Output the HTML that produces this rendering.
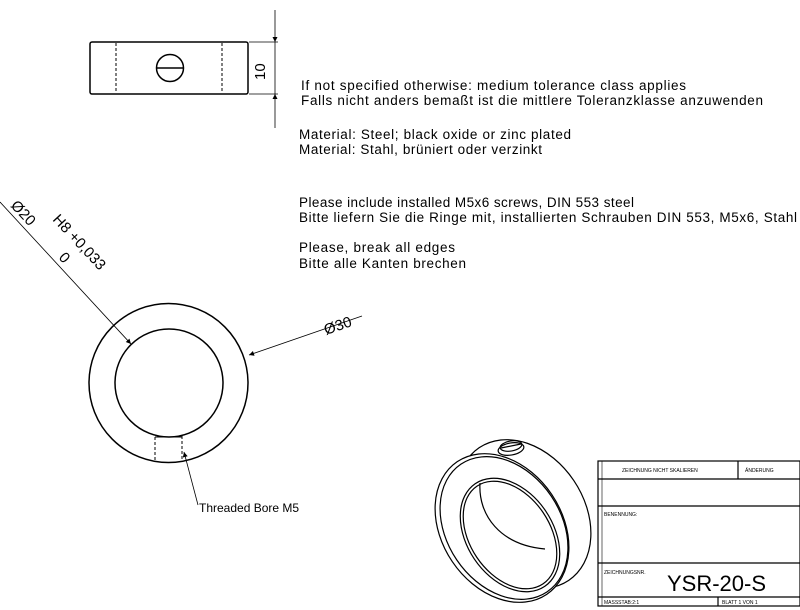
<!DOCTYPE html>
<html><head><meta charset="utf-8"><style>
html,body{margin:0;padding:0;background:#fff;width:800px;height:610px;overflow:hidden}
svg{display:block}
text{font-family:"Liberation Sans",Arial,sans-serif;fill:#000}
</style></head><body>
<svg width="800" height="610" viewBox="0 0 800 610" xmlns="http://www.w3.org/2000/svg">
<defs>
<marker id="ar" viewBox="0 0 10 10" refX="10" refY="5" markerWidth="9" markerHeight="5" orient="auto" markerUnits="userSpaceOnUse"><path d="M0,0 L10,5 L0,10 z" fill="#000"/></marker>
</defs>
<g fill="none" stroke="#000">
<!-- top view -->
<rect x="90" y="42" width="158" height="52" rx="2" stroke-width="1.5"/>
<line x1="116" y1="43" x2="116" y2="93" stroke-dasharray="3,2"/>
<line x1="222" y1="43" x2="222" y2="93" stroke-dasharray="3,2"/>
<circle cx="170" cy="68" r="13.5" stroke-width="1.5"/>
<line x1="157" y1="68" x2="183" y2="68" stroke-width="1.5"/>
<line x1="249" y1="42" x2="278" y2="42" stroke-width="0.8"/>
<line x1="249" y1="94" x2="278" y2="94" stroke-width="0.8"/>
<line x1="275" y1="10" x2="275" y2="42" stroke-width="0.8" marker-end="url(#ar)"/>
<line x1="275" y1="128" x2="275" y2="94" stroke-width="0.8" marker-end="url(#ar)"/>
<line x1="275" y1="42" x2="275" y2="94" stroke-width="0.8"/>
<!-- front view -->
<circle cx="168.5" cy="383" r="79.5" stroke-width="1.5"/>
<circle cx="169" cy="383" r="54" stroke-width="1.5"/>
<line x1="155" y1="437" x2="155" y2="461" stroke-dasharray="3,2"/>
<line x1="182" y1="436" x2="182" y2="461" stroke-dasharray="3,2"/>
<line x1="155" y1="437" x2="182" y2="437"/>
<line x1="0" y1="202" x2="131" y2="344" stroke-width="0.8" marker-end="url(#ar)"/>
<line x1="362" y1="316" x2="249" y2="355" stroke-width="0.8" marker-end="url(#ar)"/>
<line x1="198" y1="505" x2="184" y2="452" stroke-width="0.8" marker-end="url(#ar)"/>
<!-- iso -->
<g stroke-width="1.2">
<ellipse cx="524" cy="514" rx="80" ry="60" transform="rotate(56 524 514)"/>
<ellipse cx="502" cy="528" rx="80" ry="60" transform="rotate(56 502 528)" fill="#fff"/>
<ellipse cx="504" cy="528" rx="77" ry="57" transform="rotate(56 504 528)"/>
<ellipse cx="510" cy="535" rx="62" ry="43" transform="rotate(56 510 535)"/>
<ellipse cx="510" cy="535" rx="59" ry="40" transform="rotate(56 510 535)"/>
<path d="M480,483 C478,515 500,545 545,549"/>
<ellipse cx="511" cy="449" rx="13" ry="6" transform="rotate(-10 511 449)" fill="#fff"/>
<ellipse cx="511" cy="446" rx="11" ry="5" transform="rotate(-10 511 446)"/>
<line x1="501" y1="448" x2="521" y2="444"/>
</g>
<!-- title block -->
<g stroke-width="1.2">
<rect x="598" y="461" width="202" height="145" fill="#fff"/>
<line x1="598" y1="479" x2="800" y2="479"/>
<line x1="598" y1="506" x2="800" y2="506"/>
<line x1="598" y1="563" x2="800" y2="563"/>
<line x1="598" y1="597" x2="800" y2="597"/>
<line x1="738" y1="461" x2="738" y2="479"/>
<line x1="718" y1="597" x2="718" y2="606"/>
<line x1="602" y1="461" x2="602" y2="606" stroke-width="0.6"/>
</g>
</g>
<text x="301" y="90" font-size="13.5" textLength="385">If not specified otherwise: medium tolerance class applies</text>
<text x="301" y="105" font-size="13.5" textLength="462">Falls nicht anders bemaßt ist die mittlere Toleranzklasse anzuwenden</text>
<text x="299" y="139" font-size="13.5" textLength="272">Material: Steel; black oxide or zinc plated</text>
<text x="299" y="154" font-size="13.5" textLength="243">Material: Stahl, brüniert oder verzinkt</text>
<text x="299" y="207" font-size="13.5" textLength="335">Please include installed M5x6 screws, DIN 553  steel</text>
<text x="299" y="222" font-size="13.5" textLength="498">Bitte liefern Sie die Ringe mit, installierten Schrauben DIN 553, M5x6, Stahl</text>
<text x="299" y="252" font-size="13.5" textLength="156">Please, break all edges</text>
<text x="299" y="268" font-size="13.5" textLength="167">Bitte alle Kanten brechen</text>
<text x="0" y="0" font-size="15" transform="translate(265,80) rotate(-90)">10</text>
<text x="0" y="0" font-size="15" transform="translate(10,206) rotate(47)">Ø20</text>
<text x="0" y="0" font-size="15" transform="translate(52,220) rotate(47)">H8 +0,033</text>
<text x="0" y="0" font-size="15" transform="translate(58,258) rotate(47)">0</text>
<text x="0" y="0" font-size="15" transform="translate(326,335) rotate(-19)">Ø30</text>
<text x="199" y="512" font-size="12">Threaded Bore M5</text>
<text x="622" y="472" font-size="5">ZEICHNUNG NICHT SKALIEREN</text>
<text x="745" y="472" font-size="5">ÄNDERUNG</text>
<text x="604" y="516" font-size="5">BENENNUNG:</text>
<text x="604" y="574" font-size="5">ZEICHNUNGSNR.</text>
<text x="667" y="591" font-size="22">YSR-20-S</text>
<text x="604" y="604" font-size="5">MASSSTAB:2:1</text>
<text x="722" y="604" font-size="5">BLATT 1 VON 1</text>
</svg>
</body></html>
